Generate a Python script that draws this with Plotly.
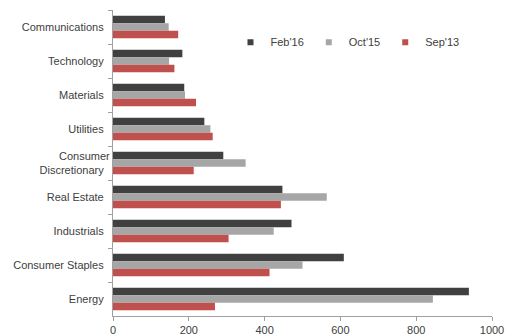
import plotly.graph_objects as go

categories = ["Communications", "Technology", "Materials", "Utilities",
              "Consumer<br>Discretionary", "Real Estate", "Industrials",
              "Consumer Staples", "Energy"]
feb16 = [137, 183, 188, 241, 291, 447, 471, 609, 939]
oct15 = [147, 148, 190, 257, 350, 564, 424, 500, 844]
sep13 = [172, 162, 219, 263, 213, 443, 305, 413, 269]
series_names = ["Feb'16", "Oct'15", "Sep'13"]
colors = ["#404040", "#a6a6a6", "#c0504d"]
x_ticks = [0, 200, 400, 600, 800, 1000]

fig = go.Figure()
for name, vals, col in zip(series_names, [feb16, oct15, sep13], colors):
    fig.add_trace(go.Bar(y=categories, x=vals, name=name, orientation="h",
                         showlegend=False,
                         marker=dict(color=col, line=dict(width=0))))
# legend entries with small square symbols
for name, col in zip(series_names, colors):
    fig.add_trace(go.Scatter(x=[None], y=[None], mode="markers", name=name,
                             marker=dict(symbol="square", size=6, color=col)))

fig.update_layout(
    width=505, height=335,
    margin=dict(l=113, r=13, t=10, b=19),
    paper_bgcolor="white", plot_bgcolor="white",
    barmode="group", bargap=0.34, bargroupgap=0,
    font=dict(family="Liberation Sans, Arial", size=11, color="#404040"),
    legend=dict(orientation="h", x=0.31, y=0.895, xanchor="left", yanchor="middle",
                traceorder="normal", font=dict(size=11, color="#404040"),
                itemwidth=30, bgcolor="rgba(0,0,0,0)"),
    xaxis=dict(range=[0, 1000], tickvals=x_ticks, showgrid=False, zeroline=False,
               showline=True, linecolor="#a0a0a0", linewidth=1,
               ticks="outside", ticklen=4, tickcolor="#a0a0a0", automargin=False),
    yaxis=dict(autorange="reversed", showgrid=False, zeroline=False,
               showline=True, linecolor="#a0a0a0", linewidth=1,
               ticks="outside", ticklen=4, tickcolor="#a0a0a0",
               tickson="boundaries", ticksuffix="  ", automargin=False),
)
fig.write_html("out.html")
